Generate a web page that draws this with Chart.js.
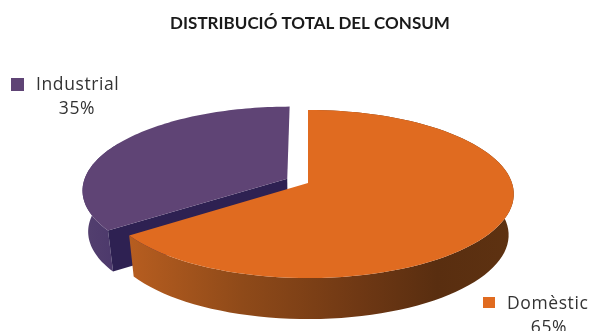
<!DOCTYPE html>
<html>
<head>
<meta charset="utf-8">
<title>Distribució total del consum</title>
<script src="https://cdn.jsdelivr.net/npm/chart.js@4"></script>
<style>
  html, body { margin:0; padding:0; background:#fff; }
  canvas { display:block; }
</style>
</head>
<body>
<canvas id="pie" width="594" height="331"></canvas>
<script>
// Data
const categories = ['Domèstic', 'Industrial'];
const shares     = [65, 35];
const faceColors = ['#e06b20', '#5f4475'];

// How far each slice is pulled out of the pie, in radius units
const explode = [0, 0.115];

// Tilted pie: centre, horizontal and vertical radius, perspective strength, wall height
const CX = 308, CY = 183, KX = 204, KY = 82.6, PERSP = 0.131, WALL = 41, WALL_SHRINK = 0.975;

// Unit-circle point -> screen point on the top plane
function project(u, v){
  const w = 1 - PERSP * v;
  return { x: CX + KX * u / w, y: CY + KY * v / w };
}
// same point dropped onto the bottom plane
function projectLow(u, v){
  const p = project(u, v);
  return { x: CX + (p.x - CX) * WALL_SHRINK, y: p.y + WALL };
}

function arcPoints(arc, i, fn){
  const mid = (arc.startAngle + arc.endAngle) / 2;
  const ox = Math.cos(mid) * explode[i], oy = Math.sin(mid) * explode[i];
  const pts = [], steps = 90;
  for(let s = 0; s <= steps; s++){
    const a = arc.startAngle + (arc.endAngle - arc.startAngle) * s / steps;
    pts.push(fn(ox + Math.cos(a), oy + Math.sin(a)));
  }
  return { pts, apex: fn(ox, oy) };
}

function fillPoly(ctx, pts, fill){
  ctx.beginPath();
  pts.forEach((p, n) => n ? ctx.lineTo(p.x, p.y) : ctx.moveTo(p.x, p.y));
  ctx.closePath();
  ctx.fillStyle = fill;
  ctx.fill();
}

function hGradient(ctx, x0, x1, stops){
  const g = ctx.createLinearGradient(x0, 0, x1, 0);
  stops.forEach(s => g.addColorStop(s[0], s[1]));
  return g;
}

// Draws the slices as an extruded, tilted pie from the arc elements of the doughnut controller
const tiltedPie = {
  id: 'tiltedPie',
  beforeDatasetsDraw(chart){
    const ctx = chart.ctx;
    const arcs = chart.getDatasetMeta(0).data;
    const wallFills = [
      hGradient(ctx, 125, 515, [[0,'#b85e20'],[0.3,'#8f4a19'],[0.6,'#6f3814'],[0.8,'#592e10'],[1,'#5e3211']]),
      hGradient(ctx, 80, 130, [[0,'#54406f'],[1,'#49366a']])
    ];
    // back slice first, the orange one overlaps it
    [1, 0].forEach(i => {
      const top = arcPoints(arcs[i], i, project);
      const low = arcPoints(arcs[i], i, projectLow);
      // the purple slice only shows its wall up to the left-most point of the rim
      const n = i === 1 ? 46 : top.pts.length;
      fillPoly(ctx, top.pts.slice(0, n).concat(low.pts.slice(0, n).reverse()), wallFills[i]);
      if(i === 1){
        // cut face between the centre and the front edge of the slice
        fillPoly(ctx, [top.apex, top.pts[0], low.pts[0], low.apex], '#2e2152');
      }
      fillPoly(ctx, [top.apex].concat(top.pts), faceColors[i]);
    });
    return false;
  },
  afterDraw(chart){
    const ctx = chart.ctx;
    const entries = [
      { i:1, box:[11, 78, 13, 13], textX:36, textY:85, pctX:77, pctY:109 },
      { i:0, box:[483, 297, 12, 11], textX:507, textY:304, pctX:549, pctY:328 }
    ];
    ctx.save();
    ctx.font = '17.5px "Open Sans"';
    ctx.letterSpacing = '0.6px';
    ctx.textBaseline = 'middle';
    entries.forEach(e => {
      ctx.fillStyle = faceColors[e.i];
      ctx.fillRect(e.box[0], e.box[1], e.box[2], e.box[3]);
      ctx.fillStyle = '#333333';
      ctx.textAlign = 'left';
      ctx.fillText(categories[e.i], e.textX, e.textY);
      ctx.textAlign = 'center';
      ctx.fillText(shares[e.i] + '%', e.pctX, e.pctY);
    });
    ctx.restore();
  }
};

new Chart(document.getElementById('pie'), {
  type: 'doughnut',
  data: { labels: categories, datasets: [{ data: shares, backgroundColor: faceColors }] },
  options: {
    responsive: false,
    animation: false,
    cutout: 0,
    layout: { padding: { left: 26 } },
    plugins: {
      legend: { display: false },
      tooltip: { enabled: false },
      title: {
        display: true,
        text: 'DISTRIBUCIÓ TOTAL DEL CONSUM',
        fullSize: false,
        color: '#1a1a1a',
        font: { family: 'Lato', size: 17, weight: 'bold' },
        padding: { top: 13, bottom: 10 }
      }
    }
  },
  plugins: [tiltedPie]
});
</script>
</body>
</html>
